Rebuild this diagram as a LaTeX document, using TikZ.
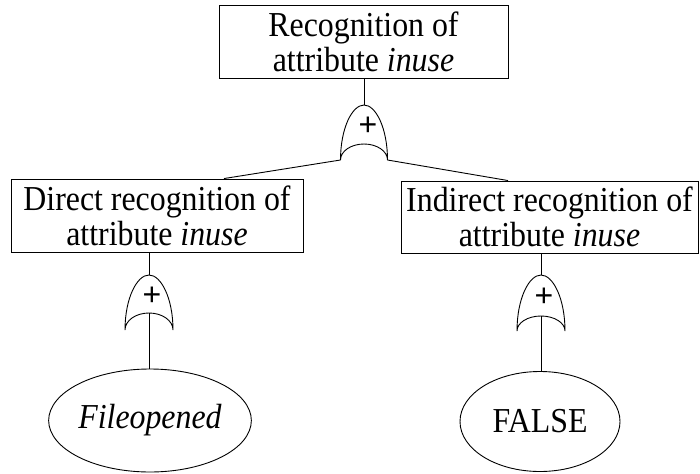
\documentclass[tikz,border=0pt]{standalone}
\usepackage{fontspec}
\setmainfont{Liberation Serif}[FakeStretch=0.91]
\newfontfamily\plusfont{Liberation Sans}
\usetikzlibrary{shapes.geometric}
\newcommand{\orgate}[6]{%
  \coordinate (#1-top) at (#2,#3);
  \coordinate (#1-l) at ({#2-#5},#4);
  \coordinate (#1-r) at ({#2+#5},#4);
  \coordinate (#1-in) at (#2,#6);
  \draw[gateline] (#1-l) .. controls ({#2-#5},{#4+0.58*((#3)-(#4))}) and ({#2-0.5*#5},#3) .. (#1-top)
     .. controls ({#2+0.5*#5},#3) and ({#2+#5},{#4+0.58*((#3)-(#4))}) .. (#1-r)
     arc[start angle=0,end angle=180,x radius=#5,y radius={(#6)-(#4)}];
}
\begin{document}
\begin{tikzpicture}[x=1pt,y=1pt,
  every path/.style={line width=0.9pt},
  gateline/.style={line width=0.9pt},
  box/.style={draw,line width=0.9pt,align=center,inner sep=0pt,
    font=\fontsize{35}{35}\selectfont},
  leaf/.style={draw,ellipse,line width=0.9pt,inner sep=0pt,
    font=\fontsize{35}{35}\selectfont},
  plus/.style={font=\plusfont\fontsize{32}{32}\selectfont,inner sep=0pt}]
\useasboundingbox (0,0) rectangle (700,-473);
% boxes
\node[box,minimum width=289pt,minimum height=73pt] (top) at (363.5,-41.5)
  {Recognition of\\attribute \textit{inuse}};
\node[box,minimum width=292pt,minimum height=73pt] (dir) at (157,-215.5)
  {Direct recognition of\\attribute \textit{inuse}};
\node[box,minimum width=297pt,minimum height=72pt] (ind) at (549.5,-217)
  {Indirect recognition of\\attribute \textit{inuse}};
% leaves
\node[leaf,minimum width=174pt,minimum height=103pt] (fo) at (150,-420.5)
  {\textit{Fileopened}};
\node[leaf,minimum width=160pt,minimum height=100pt] (fa) at (540,-421.5)
  {FALSE};
% gates
\orgate{gA}{364}{-105}{-160}{23.5}{-144}
\node[plus] (gA-plus) at (368,-126) {+};
\orgate{gB}{149}{-275}{-330}{24}{-313}
\node[plus] (gB-plus) at (152,-296) {+};
\orgate{gC}{541}{-275}{-331}{24}{-316}
\node[plus] (gC-plus) at (544,-297) {+};
% connectors
\draw (top.south -| gA-top) -- (gA-top);
\draw (gA-l) -- ([xshift=67pt]dir.north);
\draw (gA-r) -- ([xshift=-41.5pt]ind.north);
\draw (dir.south -| gB-top) -- (gB-top);
\draw (gB-in) -- (fo.north -| gB-in);
\draw (ind.south -| gC-top) -- (gC-top);
\draw (gC-in) -- (fa.north -| gC-in);
\end{tikzpicture}
\end{document}
